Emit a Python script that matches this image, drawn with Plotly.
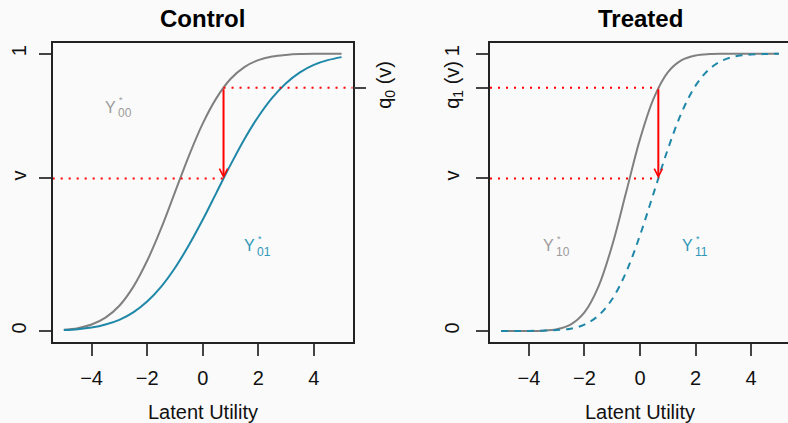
import plotly.graph_objects as go

# Latent utility grid and CDF values for each potential-outcome distribution
latent_x = [-5.0, -4.5, -4.0, -3.5, -3.0, -2.5, -2.0, -1.5, -1.0, -0.5, 0.0,
            0.5, 1.0, 1.5, 2.0, 2.5, 3.0, 3.5, 4.0, 4.5, 5.0]

control_y00 = [0.004, 0.010, 0.023, 0.048, 0.091, 0.159, 0.253, 0.369, 0.500, 0.631, 0.748,
               0.841, 0.909, 0.952, 0.977, 0.990, 0.996, 0.999, 1.000, 1.000, 1.000]
control_y01 = [0.003, 0.006, 0.012, 0.023, 0.040, 0.067, 0.106, 0.159, 0.227, 0.309, 0.401,
               0.500, 0.599, 0.692, 0.773, 0.841, 0.894, 0.933, 0.960, 0.977, 0.988]
treated_y10 = [0.000, 0.000, 0.000, 0.001, 0.006, 0.023, 0.067, 0.159, 0.309, 0.500, 0.692,
               0.841, 0.933, 0.977, 0.994, 0.999, 1.000, 1.000, 1.000, 1.000, 1.000]
treated_y11 = [0.000, 0.000, 0.000, 0.001, 0.003, 0.008, 0.023, 0.055, 0.115, 0.212, 0.345,
               0.500, 0.655, 0.788, 0.885, 0.945, 0.977, 0.992, 0.997, 0.999, 1.000]

# Quantile level v and the matched levels q0(v), q1(v)
v_level = 0.55
q0_level = 0.877
q1_level = 0.877
control_arrow_x = 0.75
treated_arrow_x = 0.66

x_ticks = [-4, -2, 0, 2, 4]
x_tick_text = ["\u22124", "\u22122", "0", "2", "4"]

GRAY = "#808080"
BLUE = "#1f88a8"
GRAY_TXT = "#9a9a9a"
BLUE_TXT = "#2f97b8"
RED = "#ff0000"
BG = "#fafafa"
FONT = "Liberation Sans, Arial, sans-serif"

W, H = 788, 423
px_unit = 300 / 10.8
ctrl_dom = [52.7 / W, 352.7 / W]
trt_dom = [490 / W, 1.0]
y_dom = [(H - 342) / H, (H - 42.7) / H]
x_lo = -5.4
trt_hi = x_lo + (W - 490) / px_unit

fig = go.Figure()

# Control panel curves
fig.add_trace(go.Scatter(x=latent_x, y=control_y00, mode="lines", line=dict(color=GRAY, width=2, shape="spline"),
                         xaxis="x", yaxis="y", hoverinfo="skip"))
fig.add_trace(go.Scatter(x=latent_x, y=control_y01, mode="lines", line=dict(color=BLUE, width=2, shape="spline"),
                         xaxis="x", yaxis="y", hoverinfo="skip"))
fig.add_trace(go.Scatter(x=[x_lo, control_arrow_x], y=[v_level, v_level], mode="lines",
                         line=dict(color=RED, width=2, dash="2px,6px"), xaxis="x", yaxis="y", hoverinfo="skip"))
fig.add_trace(go.Scatter(x=[control_arrow_x, -x_lo], y=[q0_level, q0_level], mode="lines",
                         line=dict(color=RED, width=2, dash="2px,6px"), xaxis="x", yaxis="y3", hoverinfo="skip"))

# Treated panel curves
fig.add_trace(go.Scatter(x=latent_x, y=treated_y10, mode="lines", line=dict(color=GRAY, width=2, shape="spline"),
                         xaxis="x2", yaxis="y2", hoverinfo="skip"))
fig.add_trace(go.Scatter(x=latent_x, y=treated_y11, mode="lines",
                         line=dict(color=BLUE, width=2, shape="spline", dash="7px,6px"),
                         xaxis="x2", yaxis="y2", hoverinfo="skip"))
fig.add_trace(go.Scatter(x=[x_lo, treated_arrow_x], y=[v_level, v_level], mode="lines",
                         line=dict(color=RED, width=2, dash="2px,6px"), xaxis="x2", yaxis="y2", hoverinfo="skip"))
fig.add_trace(go.Scatter(x=[x_lo, treated_arrow_x], y=[q1_level, q1_level], mode="lines",
                         line=dict(color=RED, width=2, dash="2px,6px"), xaxis="x2", yaxis="y2", hoverinfo="skip"))

tick_font = dict(family=FONT, size=20, color="#111111")
common_x = dict(showgrid=False, zeroline=False, showline=True, mirror=True, linecolor="#222222", linewidth=1.6,
                ticks="outside", ticklen=12, tickwidth=1.6, tickcolor="#444444",
                tickvals=x_ticks, ticktext=x_tick_text, tickfont=tick_font, ticklabelstandoff=5)
common_y = dict(showgrid=False, zeroline=False, showline=True, linecolor="#222222", linewidth=1.6,
                ticks="outside", ticklen=12, tickwidth=1.6, tickcolor="#444444",
                tickfont=tick_font, tickangle=-90, range=[-0.04, 1.04], domain=y_dom, ticklabelstandoff=5)

fig.update_layout(
    width=W, height=H, autosize=False,
    margin=dict(l=0, r=0, t=0, b=0),
    paper_bgcolor=BG, plot_bgcolor=BG,
    showlegend=False,
    xaxis=dict(common_x, domain=ctrl_dom, range=[x_lo, -x_lo], anchor="y"),
    yaxis=dict(common_y, anchor="x", mirror=True,
               tickvals=[0, v_level, 1], ticktext=["0", "v", "1"]),
    yaxis3=dict(common_y, anchor="x", overlaying="y", side="right", showline=False,
                tickvals=[q0_level], ticktext=["q<sub>0</sub> (v)"]),
    xaxis2=dict(common_x, domain=trt_dom, range=[x_lo, trt_hi], anchor="y2"),
    yaxis2=dict(common_y, anchor="x2", mirror=False,
                tickvals=[0, v_level, q1_level, 1], ticktext=["0", "v", "q<sub>1</sub> (v)", "1"]),
)
fig.update_layout(yaxis3_ticklabelstandoff=1, yaxis2_ticklabelstandoff=9)

annotations = []
# Panel titles and x-axis titles
for dom, title in [(ctrl_dom, "Control"), (trt_dom[0:1] + [(640 + 150) / W], "Treated")]:
    cx = (dom[0] + dom[1]) / 2
    annotations.append(dict(text="<b>%s</b>" % title, xref="paper", yref="paper", x=cx, y=(H - 18.5) / H,
                            xanchor="center", yanchor="middle", showarrow=False,
                            font=dict(family=FONT, size=24, color="#000000")))
    annotations.append(dict(text="Latent Utility", xref="paper", yref="paper", x=cx, y=(H - 412) / H,
                            xanchor="center", yanchor="middle", showarrow=False,
                            font=dict(family=FONT, size=20, color="#111111")))

# Curve labels Y*_ij: base letter, superscript star and subscript pair
labels = [("x", "y", -3, 0.8, "00", GRAY_TXT), ("x", "y", 2, 0.3, "01", BLUE_TXT),
          ("x2", "y2", -3, 0.3, "10", GRAY_TXT), ("x2", "y2", 2, 0.3, "11", BLUE_TXT)]
for xr, yr, lx, ly, sub, col in labels:
    annotations.append(dict(text="Y", xref=xr, yref=yr, x=lx, y=ly, xshift=-2, yshift=2,
                            xanchor="right", yanchor="middle", showarrow=False, borderpad=0,
                            font=dict(family=FONT, size=16, color=col)))
    annotations.append(dict(text="*", xref=xr, yref=yr, x=lx, y=ly, xshift=-1, yshift=9,
                            xanchor="left", yanchor="middle", showarrow=False, borderpad=0,
                            font=dict(family=FONT, size=9, color=col)))
    annotations.append(dict(text=sub, xref=xr, yref=yr, x=lx, y=ly, xshift=-2, yshift=-4,
                            xanchor="left", yanchor="middle", showarrow=False, borderpad=0,
                            font=dict(family=FONT, size=12, color=col)))

# Red arrows from q(v) down to v
for xr, yr, ax_x, q in [("x", "y", control_arrow_x, q0_level), ("x2", "y2", treated_arrow_x, q1_level)]:
    annotations.append(dict(text="", xref=xr, yref=yr, axref=xr, ayref=yr,
                            x=ax_x, y=v_level, ax=ax_x, ay=q, showarrow=True,
                            arrowhead=5, arrowsize=0.8, arrowwidth=2, arrowcolor=RED, standoff=0))

fig.update_layout(annotations=annotations)
fig.write_html("out.html")
